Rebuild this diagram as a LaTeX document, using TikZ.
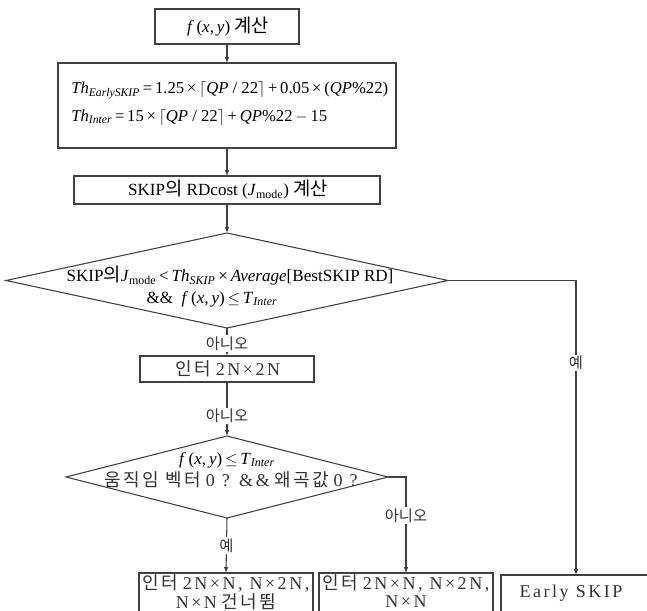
\documentclass[tikz,border=0pt]{standalone}
\usepackage{fontspec}
\setmainfont{Liberation Serif}
\newfontfamily\kr[Scale=1.1]{Noto Sans CJK KR}
\newfontfamily\krl{Noto Sans CJK KR}
\newfontfamily\krs[LetterSpace=14]{Noto Sans CJK KR}
\newfontfamily\lsr[LetterSpace=14]{Liberation Serif}
\usetikzlibrary{arrows.meta,shapes.geometric}
\newcommand{\vv}[1]{\textit{#1}}
\newcommand{\sbs}[1]{\textsubscript{\textit{#1}}}
\begin{document}
\begin{tikzpicture}[x=0.75pt,y=-0.75pt,
  ln/.style={draw=black!75, line width=0.8pt},
  arr/.style={ln, -{Latex[length=4.5pt,width=3.5pt]}},
  box/.style={rectangle, draw=black!75, line width=0.8pt, inner sep=0pt, outer sep=0pt},
  dia/.style={diamond, draw=black!75, line width=0.8pt, inner sep=0pt, outer sep=0pt},
  txt/.style={inner sep=0pt, font=\fontsize{12.8}{15}\selectfont},
  frm/.style={inner sep=0pt, font=\fontsize{12.5}{15}\selectfont},
  low/.style={inner sep=0pt, font=\fontsize{13.5}{15}\selectfont, text=black!80},
  lab/.style={fill=white, inner sep=1pt, font=\krl\fontsize{11.5}{13}\selectfont, text=black!80},
]
\useasboundingbox (0,0) rectangle (647,611);
\clip (0,0) rectangle (647,611);
\fill[white] (0,0) rectangle (647,611);

% boxes
\node[box, minimum width=108pt, minimum height=26.25pt] (b1) at (227,26.5) {};
\node[txt] (t1) at (228,26.5) {\vv{f}\,(\vv{x},\,\vv{y}) {\kr 계산}};

\node[box, minimum width=253.5pt, minimum height=63.75pt] (b2) at (227,105.5) {};
\node[frm, anchor=west] (t2a) at (71,90) {\vv{Th}\sbs{EarlySKIP}\,=\,1.25\,×\,$\lceil$\vv{QP} / 22$\rceil$\,+\,0.05\,×\,(\vv{QP}\%22)};
\node[frm, anchor=west] (t2b) at (71,117) {\vv{Th}\sbs{Inter}\,=\,15\,×\,$\lceil$\vv{QP} / 22$\rceil$\,+\,\vv{QP}\%22\,$-$\,15};

\node[box, minimum width=229.5pt, minimum height=21pt] (b3) at (227,190) {};
\node[txt] (t3) at (228,190) {SKIP{\kr 의} RDcost (\vv{J}\textsubscript{mode}) {\kr 계산}};

\node[dia, minimum width=331.5pt, minimum height=71.25pt] (d1) at (227,280.5) {};
\node[txt] (t4a) at (230,276) {SKIP{\kr 의}\vv{J}\textsubscript{mode}\,<\,\vv{Th}\sbs{SKIP}\,×\,\vv{Average}[BestSKIP RD]};
\node[txt] (t4b) at (212,299) {\&\&\ \ \vv{f}\,(\vv{x},\,\vv{y})\,$\le$\,\vv{T}\sbs{Inter}};

\node[box, minimum width=130.5pt, minimum height=19.5pt] (b4) at (227,369) {};
\node[low] (t5) at (228,369) {{\krs 인터} {\lsr 2N×2N}};

\node[dia, minimum width=241.5pt, minimum height=61.5pt] (d2) at (227,477) {};
\node[txt] (t6a) at (227,460) {\vv{f}\,(\vv{x},\,\vv{y})\,$\le$\,\vv{T}\sbs{Inter}};
\node[low] (t6b) at (231,480) {{\krs 움직임 벡터} {\lsr 0 ? \&\&} {\krs 왜곡값} {\lsr 0 ?}};

\node[box, minimum width=130.5pt, minimum height=45pt] (bA) at (226,603) {};
\node[low] (tA1) at (226,583) {{\krs 인터} {\lsr 2N×N, N×2N,}};
\node[low] (tA2) at (226,602) {{\lsr N×N} {\krs 건너뜀}};

\node[box, minimum width=130.5pt, minimum height=45pt] (bB) at (406,603) {};
\node[low] (tB1) at (406,583) {{\krs 인터} {\lsr 2N×N, N×2N,}};
\node[low] (tB2) at (406,602) {{\lsr N×N}};

\node[box, minimum width=119.25pt, minimum height=45pt] (bE) at (580.5,605) {};
\node[low] (tE) at (571,593) {{\lsr Early SKIP}};

% connectors
\draw[arr] (b1.south) -- (b2.north);
\draw[arr] (b2.south) -- (b3.north);
\draw[arr] (b3.south) -- (d1.north);
\draw[arr] (d1.south) -- node[lab, pos=0.55] (l1) {아니오} (b4.north);
\draw[arr] (b4.south) -- node[lab, pos=0.63] (l2) {아니오} (d2.north);
\draw[arr] (d2.south) -- node[lab, pos=0.5] (l3) {예} (bA.north);
\coordinate (c2) at (406,477);
\draw[arr] (d2.east) -- (c2) -- node[lab, pos=0.4] (l4) {아니오} (c2 |- bB.north);
\coordinate (c1) at (576,280.5);
\draw[arr] (d1.east) -- (c1) -- node[lab, pos=0.28] (l5) {예} (c1 |- bE.north);
\end{tikzpicture}
\end{document}
